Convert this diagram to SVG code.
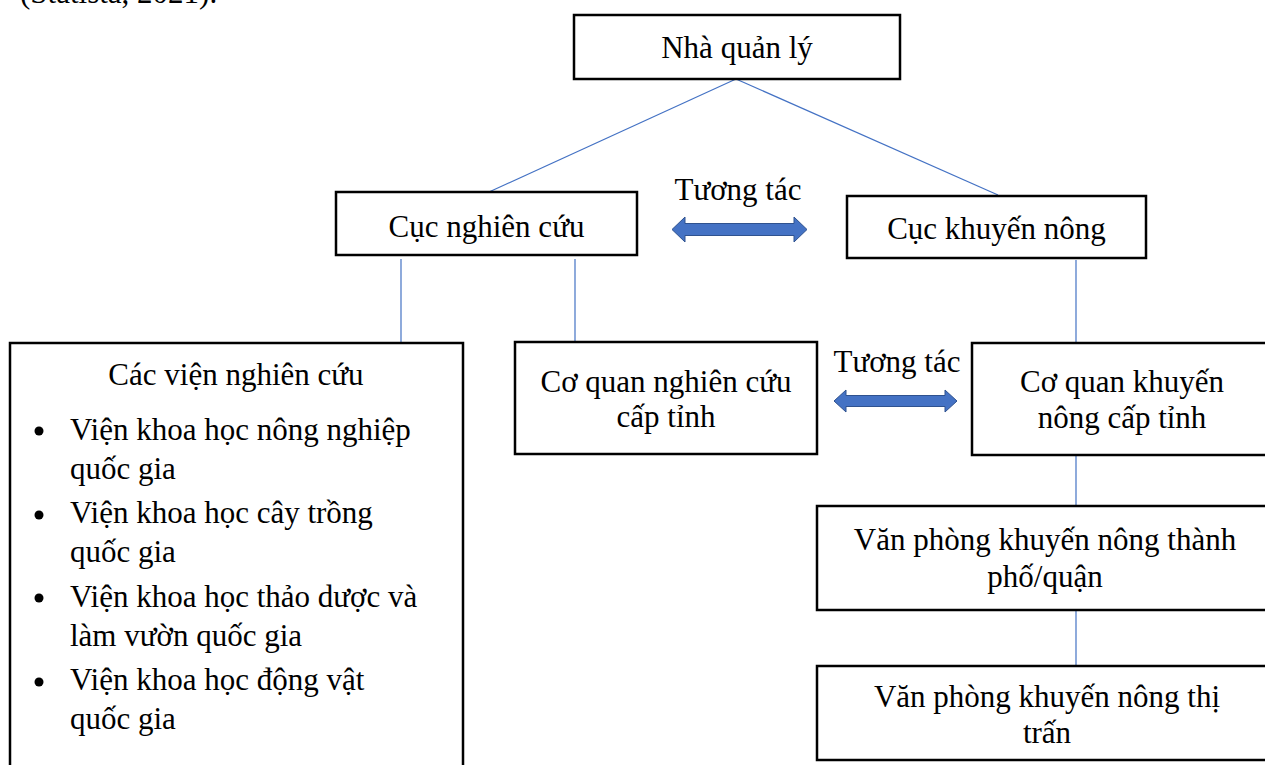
<svg xmlns="http://www.w3.org/2000/svg" width="1265" height="765" viewBox="0 0 1265 765">
<style>
.box{fill:#fff;stroke:#000;stroke-width:2.5}
.t{font-family:"Liberation Serif","Times New Roman",serif;font-size:31px;fill:#000}
.c{text-anchor:middle}
.ln{stroke:#4472C4;stroke-width:1.2;fill:none}
.arr{fill:#4472C4;stroke:#2F528F;stroke-width:1}
</style>
<rect width="1265" height="765" fill="#fff"/>
<text class="t" x="20" y="3">(Statista, 2021).</text>
<g id="connectors">
<line class="ln" x1="736" y1="79" x2="489" y2="192"/>
<line class="ln" x1="736" y1="79" x2="998" y2="195"/>
<line class="ln" x1="401" y1="259" x2="401" y2="343"/>
<line class="ln" x1="575" y1="259" x2="575" y2="343"/>
<line class="ln" x1="1076" y1="260" x2="1076" y2="343"/>
<line class="ln" x1="1076" y1="455" x2="1076" y2="506"/>
<line class="ln" x1="1076" y1="610" x2="1076" y2="666"/>
<polygon class="arr" points="672,229.5 685,217 685,223.5 794,223.5 794,217 807,229.5 794,242 794,235.5 685,235.5 685,242"/>
<polygon class="arr" points="834,401 846,390 846,395.5 945,395.5 945,390 957,401 945,412 945,406.5 846,406.5 846,412"/>
<text class="t c" x="738" y="200">Tương tác</text>
<text class="t c" x="897" y="372">Tương tác</text>
</g>
<g id="n-manager">
<rect class="box" x="574" y="15" width="326" height="64"/>
<text class="t c" x="737" y="58">Nhà quản lý</text>
</g>
<g id="n-research-dept">
<rect class="box" x="336" y="192" width="301" height="63"/>
<text class="t c" x="486.5" y="237">Cục nghiên cứu</text>
</g>
<g id="n-extension-dept">
<rect class="box" x="847" y="196" width="299" height="62"/>
<text class="t c" x="996.5" y="239">Cục khuyến nông</text>
</g>
<g id="n-institutes">
<rect class="box" x="10" y="343" width="453" height="440"/>
<text class="t c" x="236" y="385">Các viện nghiên cứu</text>
<circle cx="39" cy="431" r="4.5"/>
<circle cx="39" cy="515" r="4.5"/>
<circle cx="39" cy="598" r="4.5"/>
<circle cx="39" cy="682" r="4.5"/>
<text class="t" x="70" y="440">Viện khoa học nông nghiệp</text>
<text class="t" x="70" y="479">quốc gia</text>
<text class="t" x="70" y="523">Viện khoa học cây trồng</text>
<text class="t" x="70" y="562">quốc gia</text>
<text class="t" x="70" y="607">Viện khoa học thảo dược và</text>
<text class="t" x="70" y="646">làm vườn quốc gia</text>
<text class="t" x="70" y="690">Viện khoa học động vật</text>
<text class="t" x="70" y="729">quốc gia</text>
</g>
<g id="n-prov-research">
<rect class="box" x="515" y="342" width="302" height="112"/>
<text class="t c" x="666" y="392">Cơ quan nghiên cứu</text>
<text class="t c" x="666" y="427">cấp tỉnh</text>
</g>
<g id="n-prov-extension">
<rect class="box" x="972" y="343" width="310" height="112"/>
<text class="t c" x="1122" y="392">Cơ quan khuyến</text>
<text class="t c" x="1122" y="428">nông cấp tỉnh</text>
</g>
<g id="n-city-office">
<rect class="box" x="817" y="506" width="460" height="104"/>
<text class="t c" x="1045" y="550">Văn phòng khuyến nông thành</text>
<text class="t c" x="1045" y="587">phố/quận</text>
</g>
<g id="n-town-office">
<rect class="box" x="817" y="666" width="460" height="94"/>
<text class="t c" x="1047" y="707">Văn phòng khuyến nông thị</text>
<text class="t c" x="1047" y="743">trấn</text>
</g>
</svg>
